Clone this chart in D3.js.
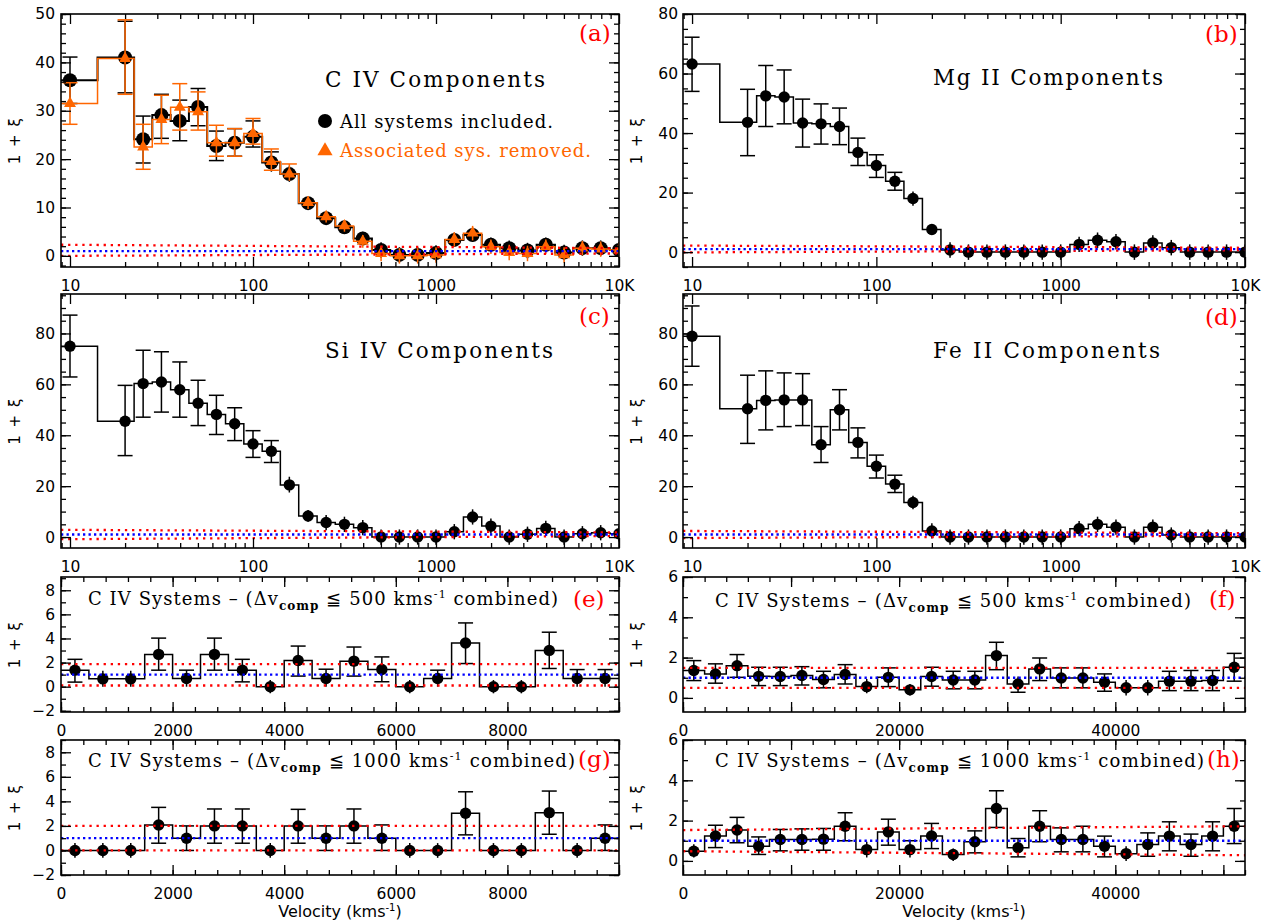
<!DOCTYPE html>
<html>
<head>
<meta charset="utf-8">
<script src="https://cdn.jsdelivr.net/npm/d3@7/dist/d3.min.js"></script>
<style>
  body { margin: 0; background: #fff; }
  svg { display: block; }
  .tick text { font-family: "DejaVu Sans", sans-serif; font-size: 15.5px; fill: #000; }
  .tick line { stroke: #000; stroke-width: 1.3; }
</style>
</head>
<body>
<svg id="fig" width="1265" height="922"></svg>
<script>
// ---- velocity bins ----
const velLog = [10, 20, 25.1, 31.6, 39.8, 50.1, 63.1, 79.4, 100, 126, 158, 200, 251, 316, 398,
                501, 631, 794, 1000, 1259, 1585, 1995, 2512, 3162, 3981, 5012, 6310, 7943, 10000];
const velSys = [250, 750, 1250, 1750, 2250, 2750, 3250, 3750, 4250, 4750,
                5250, 5750, 6250, 6750, 7250, 7750, 8250, 8750, 9250, 9750];
const velSysWide = [1000, 3000, 5000, 7000, 9000, 11000, 13000, 15000, 17000, 19000, 21000, 23000, 25000,
                    27000, 29000, 31000, 33000, 35000, 37000, 39000, 41000, 43000, 45000, 47000, 49000, 51000];

// ---- (a) C IV components, all systems ----
const civAll   = [36.3, 41.0, 24.1, 29.1, 27.9, 30.8, 22.7, 23.4, 24.6, 19.3, 16.9, 10.9, 7.8, 5.9, 3.6,
                  1.2, 0.2, 0.2, 0.6, 3.3, 4.3, 2.3, 1.6, 1.1, 2.3, 0.7, 1.6, 1.6, 1.2];
const civAllLo = [31.5, 33.7, 19.2, 24.3, 23.8, 26.9, 19.7, 20.6, 22.5, 17.4, 15.3, 9.5, 6.6, 4.7, 2.2,
                  -0.4, -1.4, -1.4, -1.0, 1.9, 2.9, 0.8, 0.0, -0.5, 0.8, -0.9, 0.0, 0.0, -0.4];
const civAllHi = [41.1, 48.5, 28.9, 33.4, 32.2, 34.6, 25.8, 26.3, 27.9, 21.5, 18.6, 12.1, 9.0, 7.1, 5.0,
                  2.8, 1.8, 1.8, 2.2, 4.8, 5.8, 3.8, 3.2, 2.7, 3.8, 2.3, 3.2, 3.2, 2.8];
// ---- (a) C IV components, associated systems removed ----
const civNoAs   = [31.5, 40.8, 22.5, 28.2, 30.7, 29.8, 23.4, 23.4, 25.3, 19.5, 16.9, 11.0, 8.1, 6.2, 3.0,
                   0.5, 0.0, 0.0, 0.2, 3.4, 4.7, 1.9, 0.7, 0.5, 1.9, 0.2, 1.6, 1.4, 1.2];
const civNoAsLo = [27.2, 33.4, 17.9, 23.2, 26.0, 26.0, 20.6, 20.6, 23.1, 17.7, 15.5, 9.7, 6.9, 5.0, 1.7,
                   -1.1, -1.6, -1.6, -1.4, 1.9, 3.2, 0.4, -0.9, -1.1, 0.4, -1.4, 0.1, -0.2, -0.4];
const civNoAsHi = [35.8, 48.8, 27.2, 33.2, 35.6, 33.9, 27.0, 26.3, 28.4, 22.1, 19.0, 12.3, 9.3, 7.4, 4.3,
                   2.1, 1.6, 1.6, 1.8, 4.9, 6.2, 3.4, 2.3, 2.1, 3.4, 1.8, 3.1, 3.0, 2.8];

// ---- (b) Mg II components ----
const mg2   = [63.2, 43.6, 52.5, 52.1, 43.4, 43.1, 42.2, 33.5, 29.1, 23.8, 18.0, 7.6, 0.7, 0, 0,
               0, 0, 0, 0, 2.6, 4.0, 3.5, 0, 3.1, 1.5, 0, 0, 0, 0];
const mg2Lo = [54.0, 32.4, 42.2, 43.1, 35.3, 36.3, 36.1, 29.1, 25.1, 20.8, 15.6, 5.9, -1.9, -2.6, -2.6,
               -2.6, -2.6, -2.6, -2.6, 0.0, 1.4, 0.9, -2.6, 0.5, -1.1, -2.6, -2.6, -2.6, -2.6];
const mg2Hi = [72.2, 54.7, 62.7, 61.2, 51.4, 49.8, 48.4, 38.3, 32.7, 26.8, 20.4, 9.3, 3.3, 2.6, 2.6,
               2.6, 2.6, 2.6, 2.6, 5.2, 6.6, 6.1, 2.6, 5.7, 4.1, 2.6, 2.6, 2.6, 2.6];

// ---- (c) Si IV components ----
const si4   = [75.0, 45.5, 60.3, 60.9, 57.9, 52.6, 48.2, 44.5, 36.6, 33.7, 20.5, 8.3, 5.7, 5.0, 3.7,
               0, 0, 0, 0, 2.1, 7.9, 4.3, 0, 1.1, 3.4, 0, 1.3, 1.7, 1.3];
const si4Lo = [62.9, 32.0, 47.1, 49.1, 47.1, 43.8, 40.3, 37.9, 31.3, 29.3, 17.5, 6.0, 2.7, 2.0, 0.7,
               -3.0, -3.0, -3.0, -3.0, -0.9, 4.9, 1.3, -3.0, -1.9, 0.4, -3.0, -1.7, -1.3, -1.7];
const si4Hi = [87.2, 59.6, 73.4, 72.8, 68.8, 61.6, 55.7, 50.8, 41.8, 37.9, 23.7, 10.6, 8.7, 8.0, 6.7,
               3.0, 3.0, 3.0, 3.0, 5.1, 10.9, 7.3, 3.0, 4.1, 6.4, 3.0, 4.3, 4.7, 4.3];

// ---- (d) Fe II components ----
const fe2   = [78.9, 50.4, 53.7, 53.9, 53.9, 36.3, 50.0, 37.2, 27.8, 20.8, 13.6, 2.4, 0, 0, 0,
               0, 0, 0, 0, 3.3, 5.0, 3.9, 0, 3.9, 0.8, 0, 0, 0, 0];
const fe2Lo = [67.1, 36.8, 42.1, 43.4, 43.8, 29.3, 42.1, 31.1, 23.2, 17.5, 10.9, -0.6, -3.0, -3.0, -3.0,
               -3.0, -3.0, -3.0, -3.0, 0.3, 2.0, 0.9, -3.0, 0.9, -2.2, -3.0, -3.0, -3.0, -3.0];
const fe2Hi = [90.8, 63.6, 65.3, 64.5, 64.2, 43.4, 57.9, 42.9, 32.2, 24.3, 16.2, 5.4, 3.0, 3.0, 3.0,
               3.0, 3.0, 3.0, 3.0, 6.3, 8.0, 6.9, 3.0, 6.9, 3.8, 3.0, 3.0, 3.0, 3.0];

// ---- (e) C IV systems, 500 km/s merging, 0-10000 ----
const sys500   = [1.37, 0.65, 0.65, 2.68, 0.68, 2.68, 1.37, 0, 2.17, 0.68, 2.12, 1.42, 0, 0.68, 3.62, 0, 0, 3.01, 0.68, 0.68];
const sys500Lo = [0.38, 0, 0, 1.37, 0, 1.37, 0.4, -0.55, 0.88, 0, 0.88, 0.41, -0.55, 0, 1.92, -0.55, -0.55, 1.51, 0, 0];
const sys500Hi = [2.27, 1.32, 1.32, 4.03, 1.37, 4.03, 2.27, 0.55, 3.37, 1.45, 3.29, 2.47, 0.55, 1.37, 5.29, 0.55, 0.55, 4.52, 1.42, 1.42];

// ---- (f) C IV systems, 500 km/s merging, 0-52000 ----
const sys500w   = [1.36, 1.19, 1.60, 1.07, 1.06, 1.11, 0.91, 1.16, 0.56, 1.02, 0.40, 1.06, 0.89,
                   0.89, 2.10, 0.69, 1.44, 0.99, 0.99, 0.78, 0.50, 0.50, 0.83, 0.83, 0.86, 1.52];
const sys500wLo = [0.86, 0.73, 1.02, 0.61, 0.61, 0.64, 0.50, 0.69, 0.23, 0.56, 0.12, 0.58, 0.45,
                   0.45, 1.40, 0.28, 0.86, 0.50, 0.50, 0.33, 0.12, 0.12, 0.36, 0.36, 0.36, 0.83];
const sys500wHi = [1.85, 1.69, 2.15, 1.52, 1.52, 1.55, 1.32, 1.65, 0.94, 1.49, 0.69, 1.52, 1.32,
                   1.32, 2.76, 1.06, 1.98, 1.49, 1.49, 1.19, 0.89, 0.89, 1.32, 1.36, 1.36, 2.21];

// ---- (g) C IV systems, 1000 km/s merging, 0-10000 ----
const sys1000   = [0, 0, 0, 2.08, 1.0, 2.0, 2.0, 0, 2.0, 1.0, 2.0, 1.0, 0, 0, 3.03, 0, 0, 3.08, 0, 1.0];
const sys1000Lo = [-0.6, -0.6, -0.6, 0.59, 0, 0.59, 0.59, -0.6, 0.59, 0, 0.59, 0, -0.6, -0.6, 1.27, -0.6, -0.6, 1.32, -0.6, 0];
const sys1000Hi = [0.6, 0.6, 0.6, 3.51, 2.0, 3.38, 3.38, 0.6, 3.35, 2.0, 3.38, 2.08, 0.6, 0.6, 4.78, 0.6, 0.6, 4.84, 0.6, 2.08];

// ---- (h) C IV systems, 1000 km/s merging, 0-52000 ----
const sys1000w   = [0.48, 1.24, 1.53, 0.73, 1.06, 1.06, 1.08, 1.72, 0.56, 1.44, 0.56, 1.24, 0.32,
                    0.95, 2.60, 0.65, 1.72, 1.06, 1.06, 0.73, 0.36, 0.81, 1.23, 0.81, 1.23, 1.72];
const sys1000wLo = [0.17, 0.66, 0.90, 0.32, 0.50, 0.53, 0.53, 1.00, 0.17, 0.78, 0.17, 0.61, 0.00,
                    0.40, 1.66, 0.20, 0.95, 0.45, 0.45, 0.20, 0.00, 0.23, 0.50, 0.23, 0.50, 0.86];
const sys1000wHi = [0.83, 1.77, 2.16, 1.19, 1.56, 1.59, 1.61, 2.39, 0.95, 2.07, 1.00, 1.86, 0.61,
                    1.49, 3.48, 1.11, 2.49, 1.64, 1.72, 1.23, 0.73, 1.39, 1.94, 1.33, 1.94, 2.60];

// ---- 1-sigma bands of a random distribution (left end, right end) ----
const bandHiA = [2.3, 1.6],  bandLoA = [0.0, 0.5];
const bandHiB = [2.2, 1.45], bandLoB = [-0.1, 0.65];
const bandHiC = [2.85, 1.8], bandLoC = [-0.85, 0.4];
const bandHiD = [2.4, 1.5],  bandLoD = [-0.4, 0.5];
const bandHiE = [1.88, 1.88], bandLoE = [0.1, 0.1];
const bandHiF = [1.49, 1.49], bandLoF = [0.5, 0.5];
const bandHiG = [2.0, 2.0],   bandLoG = [0.0, 0.0];
const bandHiH = [1.53, 1.72], bandLoH = [0.48, 0.28];

const ORANGE = '#ff6600';
const RED = '#ff0000';
const BLUE = '#0000ff';
const TRI_AREA = 62;   // orange triangle, ~12px wide
const svg = d3.select('#fig');

const logTicks = [10, 100, 1000, 10000];
const fmtLog = d => d === 10000 ? '10K' : String(d);

function binEdges(xs, log) {
    const mid = log ? (a, b) => Math.sqrt(a * b) : (a, b) => (a + b) / 2;
    const inner = d3.pairs(xs, mid);
    const first = log ? xs[0] * xs[0] / inner[0] : 2 * xs[0] - inner[0];
    const n = xs.length - 1;
    const last = log ? xs[n] * xs[n] / inner[n - 1] : 2 * xs[n] - inner[n - 1];
    return [first, ...inner, last];
}

function drawPanel(p) {
    const [x0, x1, y0, y1] = p.box;
    const x = (p.log ? d3.scaleLog() : d3.scaleLinear()).domain(p.xDomain).range([x0, x1]);
    const y = d3.scaleLinear().domain(p.yDomain).range([y1, y0]);
    const g = svg.append('g');

    svg.append('clipPath').attr('id', 'clip-' + p.tag)
        .append('rect').attr('x', x0).attr('y', y0).attr('width', x1 - x0).attr('height', y1 - y0);
    const plot = g.append('g').attr('clip-path', `url(#clip-${p.tag})`);

    // histogram steps, error bars, markers
    p.series.forEach(s => {
        const edges = binEdges(s.x, p.log);
        const pts = s.v.map((v, i) => [edges[i], v]);
        pts.push([edges[edges.length - 1], s.v[s.v.length - 1]]);
        plot.append('path')
            .attr('d', d3.line().x(d => x(d[0])).y(d => y(d[1])).curve(d3.curveStepAfter)(pts))
            .attr('fill', 'none').attr('stroke', s.color).attr('stroke-width', s.lw);

        const capW = 7.5;
        s.v.forEach((v, i) => {
            const cx = x(s.x[i]), cy = y(v), yl = y(s.lo[i]), yh = y(s.hi[i]);
            plot.append('line').attr('x1', cx).attr('x2', cx).attr('y1', yl).attr('y2', yh)
                .attr('stroke', s.color).attr('stroke-width', 1.5);
            [yl, yh].forEach(ye => {
                if (Math.abs(ye - cy) > s.r + 2.5) {
                    plot.append('line').attr('x1', cx - capW).attr('x2', cx + capW)
                        .attr('y1', ye).attr('y2', ye)
                        .attr('stroke', s.color).attr('stroke-width', 1.5);
                }
            });
        });
        if (s.marker === 'tri') {
            plot.selectAll(null).data(s.v).join('path')
                .attr('d', d3.symbol(d3.symbolTriangle, TRI_AREA)())
                .attr('transform', (v, i) => `translate(${x(s.x[i])},${y(v)})`)
                .attr('fill', s.color);
        } else {
            plot.selectAll(null).data(s.v).join('circle')
                .attr('cx', (v, i) => x(s.x[i])).attr('cy', v => y(v)).attr('r', s.r)
                .attr('fill', s.color);
        }
    });

    // random-expectation lines (drawn over the markers, as in the original)
    const band = (vals, color, dash) => {
        plot.append('path')
            .attr('d', d3.line().x(d => x(d[0])).y(d => y(d[1]))([[p.xDomain[0], vals[0]], [p.xDomain[1], vals[1]]]))
            .attr('stroke', color).attr('stroke-width', 2.3).attr('stroke-dasharray', dash).attr('fill', 'none');
    };
    band(p.bandHi, RED, '2.3,4.8');
    band(p.bandLo, RED, '2.3,4.8');
    band([1, 1], BLUE, '2.3,3.2');

    // axes: ticks on every side, pointing in
    const xMinor = p.log ? x.ticks().filter(t => !logTicks.includes(t)) : p.xMinor;
    const yMinor = p.yMinor.filter(t => t >= p.yDomain[0] && t <= p.yDomain[1]);
    const yMajor = p.yMajor.filter(t => t >= p.yDomain[0] && t <= p.yDomain[1]);
    const xMajor = p.log ? logTicks : p.xMajor;

    const add = (axis, tx, ty) => {
        const a = g.append('g').attr('transform', `translate(${tx},${ty})`).call(axis);
        a.select('.domain').remove();
        return a;
    };
    add(d3.axisBottom(x).tickValues(xMinor).tickSize(-5).tickFormat(''), 0, y1);
    add(d3.axisTop(x).tickValues(xMinor).tickSize(-5).tickFormat(''), 0, y0);
    add(d3.axisBottom(x).tickValues(xMajor).tickSize(-10).tickPadding(13)
        .tickFormat(t => p.xLabels.includes(t) ? (p.log ? fmtLog(t) : String(t)) : ''), 0, y1);
    add(d3.axisTop(x).tickValues(xMajor).tickSize(-10).tickFormat(''), 0, y0);
    add(d3.axisLeft(y).tickValues(yMinor).tickSize(-5).tickFormat(''), x0, 0);
    add(d3.axisRight(y).tickValues(yMinor).tickSize(-5).tickFormat(''), x1, 0);
    add(d3.axisLeft(y).tickValues(yMajor).tickSize(-10).tickPadding(p.yPad).tickFormat(d3.format('d')), x0, 0);
    add(d3.axisRight(y).tickValues(yMajor).tickSize(-10).tickFormat(''), x1, 0);

    g.append('rect').attr('x', x0).attr('y', y0).attr('width', x1 - x0).attr('height', y1 - y0)
        .attr('fill', 'none').attr('stroke', '#000').attr('stroke-width', 1.6);

    // y label
    g.append('text')
        .attr('transform', `translate(${x0 - 41},${(y0 + y1) / 2}) rotate(-90)`)
        .attr('text-anchor', 'middle')
        .style('font', '15px "DejaVu Sans", sans-serif')
        .style('letter-spacing', '1.5px')
        .text('1 + ξ');

    // panel letter
    g.append('text').attr('x', p.letterPos[0]).attr('y', p.letterPos[1])
        .attr('fill', RED).style('font', '23px "DejaVu Serif", serif')
        .text(`(${p.tag})`);
    return {x, y, g};
}

function componentsTitle(g, text, tx, ty, len) {
    g.append('text').attr('x', tx).attr('y', ty)
        .attr('textLength', len).attr('lengthAdjust', 'spacing')
        .style('font', '21.5px "DejaVu Serif", serif')
        .text(text);
}

function systemsTitle(g, dv, tx, ty, len) {
    const t = g.append('text').attr('x', tx).attr('y', ty)
        .attr('textLength', len).attr('lengthAdjust', 'spacing')
        .style('font', '18px "DejaVu Serif", serif');
    t.append('tspan').text('C IV Systems – (Δv');
    t.append('tspan').attr('dy', 5).style('font-size', '12px').style('font-weight', 'bold').text('comp');
    t.append('tspan').attr('dy', -5).text(` ≦ ${dv} kms`);
    t.append('tspan').attr('dy', -7).style('font-size', '11px').text('-1');
    t.append('tspan').attr('dy', 7).text(' combined)');
}

const logMajorY = (step, top) => d3.range(0, top + 0.01, step);

const panels = [
    {tag: 'a', box: [61, 619, 14, 267], log: true, xDomain: [8.93, 10000], yDomain: [-2.3, 50],
     yMajor: logMajorY(10, 50), yMinor: d3.range(-2, 50.01, 2), yPad: 6, xLabels: logTicks,
     bandHi: bandHiA, bandLo: bandLoA, letterPos: [579, 41],
     series: [
        {x: velLog, v: civAll, lo: civAllLo, hi: civAllHi, color: '#000', marker: 'dot', r: 7, lw: 2},
        {x: velLog, v: civNoAs, lo: civNoAsLo, hi: civNoAsHi, color: ORANGE, marker: 'tri', r: 6, lw: 1.5}
     ]},
    {tag: 'b', box: [683, 1245, 14, 267], log: true, xDomain: [8.93, 10000], yDomain: [-5, 80],
     yMajor: logMajorY(20, 80), yMinor: d3.range(-5, 80.01, 5), yPad: 5, xLabels: logTicks,
     bandHi: bandHiB, bandLo: bandLoB, letterPos: [1205, 42],
     series: [{x: velLog, v: mg2, lo: mg2Lo, hi: mg2Hi, color: '#000', marker: 'dot', r: 5.7, lw: 1.5}]},
    {tag: 'c', box: [61, 619, 294, 548], log: true, xDomain: [8.93, 10000], yDomain: [-4.3, 95.5],
     yMajor: logMajorY(20, 80), yMinor: d3.range(-5, 95.01, 5), yPad: 6, xLabels: logTicks,
     bandHi: bandHiC, bandLo: bandLoC, letterPos: [579, 324],
     series: [{x: velLog, v: si4, lo: si4Lo, hi: si4Hi, color: '#000', marker: 'dot', r: 5.7, lw: 1.5}]},
    {tag: 'd', box: [683, 1245, 294, 548], log: true, xDomain: [8.93, 10000], yDomain: [-4.3, 95.5],
     yMajor: logMajorY(20, 80), yMinor: d3.range(-5, 95.01, 5), yPad: 5, xLabels: logTicks,
     bandHi: bandHiD, bandLo: bandLoD, letterPos: [1205, 325],
     series: [{x: velLog, v: fe2, lo: fe2Lo, hi: fe2Hi, color: '#000', marker: 'dot', r: 5.7, lw: 1.5}]},
    {tag: 'e', box: [61, 619, 577, 712], log: false, xDomain: [0, 10000], yDomain: [-2.1, 9.1],
     xMajor: d3.range(0, 10001, 2000), xMinor: d3.range(0, 10001, 400), xLabels: [0, 2000, 4000, 6000, 8000],
     yMajor: d3.range(-2, 9, 2), yMinor: d3.range(-2, 9.01, 1), yPad: 6,
     bandHi: bandHiE, bandLo: bandLoE, letterPos: [573, 607],
     series: [{x: velSys, v: sys500, lo: sys500Lo, hi: sys500Hi, color: '#000', marker: 'dot', r: 5.7, lw: 1.5}]},
    {tag: 'f', box: [683, 1245, 577, 712], log: false, xDomain: [0, 52000], yDomain: [-0.7, 6.0],
     xMajor: d3.range(0, 52001, 10000), xMinor: d3.range(0, 52001, 2000), xLabels: [0, 20000, 40000],
     yMajor: d3.range(0, 6.01, 2), yMinor: d3.range(0, 6.01, 1), yPad: 5,
     bandHi: bandHiF, bandLo: bandLoF, letterPos: [1209, 607],
     series: [{x: velSysWide, v: sys500w, lo: sys500wLo, hi: sys500wHi, color: '#000', marker: 'dot', r: 5.7, lw: 1.5}]},
    {tag: 'g', box: [61, 619, 740, 875], log: false, xDomain: [0, 10000], yDomain: [-2.0, 9.0],
     xMajor: d3.range(0, 10001, 2000), xMinor: d3.range(0, 10001, 400), xLabels: [0, 2000, 4000, 6000, 8000],
     yMajor: d3.range(-2, 9, 2), yMinor: d3.range(-2, 9.01, 1), yPad: 6,
     bandHi: bandHiG, bandLo: bandLoG, letterPos: [578, 767],
     series: [{x: velSys, v: sys1000, lo: sys1000Lo, hi: sys1000Hi, color: '#000', marker: 'dot', r: 5.7, lw: 1.5}]},
    {tag: 'h', box: [683, 1245, 740, 875], log: false, xDomain: [0, 52000], yDomain: [-0.7, 6.0],
     xMajor: d3.range(0, 52001, 10000), xMinor: d3.range(0, 52001, 2000), xLabels: [0, 20000, 40000],
     yMajor: d3.range(0, 6.01, 2), yMinor: d3.range(0, 6.01, 1), yPad: 5,
     bandHi: bandHiH, bandLo: bandLoH, letterPos: [1207, 767],
     series: [{x: velSysWide, v: sys1000w, lo: sys1000wLo, hi: sys1000wHi, color: '#000', marker: 'dot', r: 5.7, lw: 1.5}]}
];

const drawn = {};
panels.forEach(p => { drawn[p.tag] = drawPanel(p); });

// titles
componentsTitle(drawn.a.g, 'C IV Components', 325, 87, 220);
componentsTitle(drawn.b.g, 'Mg II Components', 933, 85, 230);
componentsTitle(drawn.c.g, 'Si IV Components', 325, 358, 228);
componentsTitle(drawn.d.g, 'Fe II Components', 933, 358, 227);
systemsTitle(drawn.e.g, 500, 88, 605, 470);
systemsTitle(drawn.f.g, 500, 715, 607, 476);
systemsTitle(drawn.g.g, 1000, 88, 767, 487);
systemsTitle(drawn.h.g, 1000, 715, 767, 489);

// legend of panel (a)
const leg = drawn.a.g.append('g');
leg.append('circle').attr('cx', 325).attr('cy', 121).attr('r', 7).attr('fill', '#000');
leg.append('text').attr('x', 340).attr('y', 128).attr('textLength', 213).attr('lengthAdjust', 'spacing')
    .style('font', '18px "DejaVu Serif", serif').text('All systems included.');
leg.append('path').attr('d', d3.symbol(d3.symbolTriangle, TRI_AREA * 1.6)())
    .attr('transform', 'translate(325,151)').attr('fill', ORANGE);
leg.append('text').attr('x', 340).attr('y', 157).attr('textLength', 251).attr('lengthAdjust', 'spacing')
    .attr('fill', ORANGE).style('font', '18px "DejaVu Serif", serif').text('Associated sys. removed.');

// x-axis titles
[[drawn.g, 340], [drawn.h, 964]].forEach(([d, cx]) => {
    const t = d.g.append('text').attr('x', cx).attr('y', 917).attr('text-anchor', 'middle')
        .style('font', '16px "DejaVu Sans", sans-serif');
    t.append('tspan').text('Velocity (kms');
    t.append('tspan').attr('dy', -6).style('font-size', '10px').text('-1');
    t.append('tspan').attr('dy', 6).text(')');
});
</script>
</body>
</html>
